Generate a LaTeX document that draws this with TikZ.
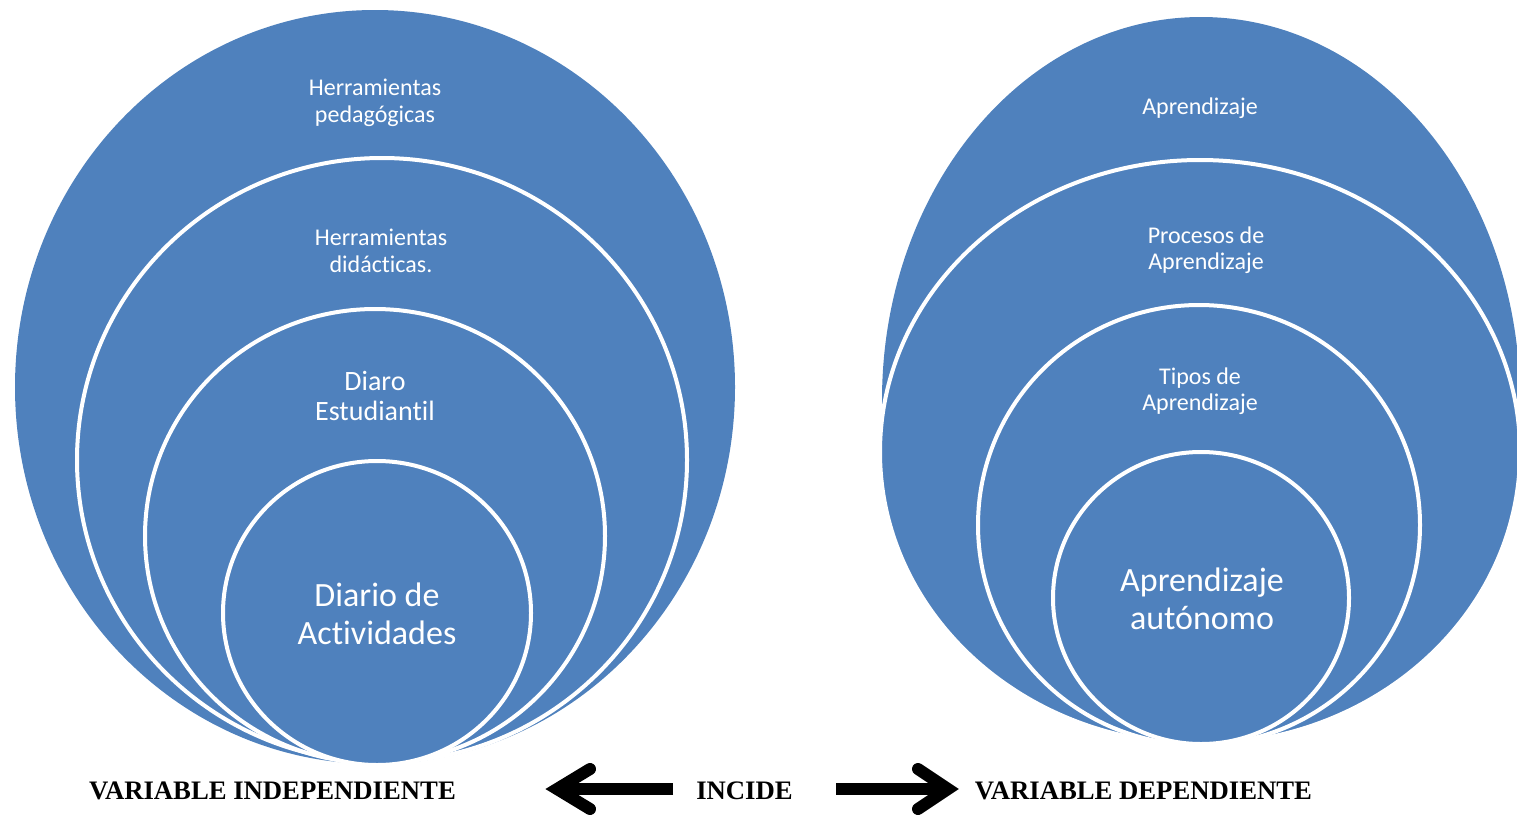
\documentclass[tikz,border=0pt]{standalone}
\usepackage{fontspec}
\setmainfont{Liberation Serif}
\newfontfamily\calib[Ligatures=NoCommon]{Carlito}
\usetikzlibrary{shapes.geometric}
\definecolor{tblue}{HTML}{4F81BD}
\tikzset{
  ring/.style={ellipse, fill=tblue, draw=white, line width=4pt, inner sep=0pt},
  small/.style={text=white, align=center, inner sep=0pt, font=\calib\fontsize{24}{26.4}\selectfont},
  mid/.style={text=white, align=center, inner sep=0pt, font=\calib\fontsize{28}{30.8}\selectfont},
  big/.style={text=white, align=center, inner sep=0pt, font=\calib\fontsize{34}{37.4}\selectfont},
  lbl/.style={text=black, inner sep=0pt, font=\bfseries\fontsize{26.7}{30}\selectfont},
  shaft/.style={line width=12pt, line cap=butt},
  head/.style={line width=12pt, line cap=round, line join=miter},
}
\begin{document}
\begin{tikzpicture}[x=1pt,y=-1pt]
\useasboundingbox (0,0) rectangle (1517,814);
\clip (0,0) rectangle (1517,814);
% left group
\node[ring, draw=none, minimum width=720pt, minimum height=754pt] (L1) at (375,387) {};
\node[ring, minimum width=610pt, minimum height=604pt] (L2) at (382,460) {};
\node[ring, minimum width=460pt, minimum height=454pt] (L3) at (375,536) {};
\node[ring, minimum width=308pt, minimum height=304pt] (L4) at (377,613) {};
\node[small] (t1) at (375,103) {Herramientas\\pedagógicas};
\node[small] (t2) at (381,251) {Herramientas\\didácticas.};
\node[mid] (t3) at (375,396) {Diaro\\Estudiantil};
\node[big] (t4) at (377,614) {Diario de\\Actividades};
% right group
\begin{scope}
\clip (800,0) rectangle (1600,452);
\node[ring, draw=none, minimum width=638pt, minimum height=766pt] (R1) at (1201,400) {};
\end{scope}
\node[ring, minimum width=640pt, minimum height=584pt] (R2) at (1200,452) {};
\node[ring, minimum width=442pt, minimum height=440pt] (R3) at (1199,525) {};
\node[ring, minimum width=296pt, minimum height=292pt] (R4) at (1201,598) {};
\node[small] (s1) at (1200,108) {Aprendizaje};
\node[small] (s2) at (1206,250) {Procesos de\\Aprendizaje};
\node[small] (s3) at (1200,391) {Tipos de\\Aprendizaje};
\node[big] (s4) at (1202,599) {Aprendizaje\\autónomo};
% bottom labels
\node[lbl] (vi) at (272.5,790.5) {VARIABLE INDEPENDIENTE};
\node[lbl] (inc) at (744.5,790.5) {INCIDE};
\node[lbl] (vd) at (1143.5,790.5) {VARIABLE DEPENDIENTE};
% arrows
\coordinate (a1s) at (673,789);
\coordinate (a1t) at (557,789);
\coordinate (a1u) at (590,769);
\coordinate (a1d) at (590,809);
\draw[shaft] (a1s) -- (a1t);
\draw[head] (a1u) -- (a1t) -- (a1d);
\coordinate (a2s) at (836,789);
\coordinate (a2t) at (948,789);
\coordinate (a2u) at (918,769);
\coordinate (a2d) at (918,809);
\draw[shaft] (a2s) -- (a2t);
\draw[head] (a2u) -- (a2t) -- (a2d);
\end{tikzpicture}
\end{document}
